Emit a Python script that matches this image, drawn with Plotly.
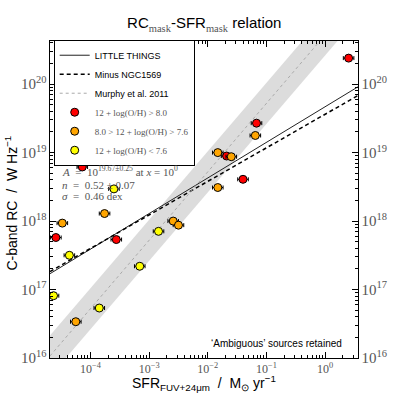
import numpy as np
import plotly.graph_objects as go

# log10 SFR and log10 RC
red_logsfr = [0.40, -1.17, -1.68, -1.40, -4.14, -4.59, -3.56]
red_logrc = [20.38, 19.43, 18.95, 18.61, 18.79, 17.76, 17.73]
orange_logsfr = [-1.19, -1.83, -1.60, -1.83, -3.76, -4.48, -2.59, -2.50, -4.25]
orange_logrc = [19.25, 19.00, 18.94, 18.49, 18.11, 17.97, 18.00, 17.94, 16.53]
yellow_logsfr = [-3.60, -2.84, -4.36, -3.16, -4.63, -3.85]
yellow_logrc = [18.47, 17.85, 17.50, 17.34, 16.91, 16.73]

# fit parameters (log A, slope)
lt_fit = (19.67, 0.52)
minus_fit = (19.56, 0.49)
murphy_fit = (20.72, 1.0)
murphy_scatter = 0.30

xlog_range = [-4.69, 0.56]
ylog_range = [16.0, 20.63]
x_tick_exp = [-4, -3, -2, -1, 0]
x_tick_text = ["10<sup>−4</sup>", "10<sup>−3</sup>", "10<sup>−2</sup>", "10<sup>−1</sup>", "10<sup>0</sup>"]

serif = "Liberation Serif"
sans = "Liberation Sans"
grey_txt = "#555555"

fig = go.Figure()

xl = np.array(xlog_range)
xs = 10 ** xl

# Murphy band
lo = 10 ** (murphy_fit[0] + murphy_fit[1] * xl - murphy_scatter)
hi = 10 ** (murphy_fit[0] + murphy_fit[1] * xl + murphy_scatter)
fig.add_trace(go.Scatter(x=list(xs) + list(xs[::-1]), y=list(lo) + list(hi[::-1]),
                         fill="toself", fillcolor="#dcdcdc", line=dict(width=0),
                         mode="lines", showlegend=False, hoverinfo="skip"))

fig.add_trace(go.Scatter(x=xs, y=10 ** (lt_fit[0] + lt_fit[1] * xl), mode="lines",
                         line=dict(color="#222222", width=1), name="LITTLE THINGS"))
fig.add_trace(go.Scatter(x=xs, y=10 ** (minus_fit[0] + minus_fit[1] * xl), mode="lines",
                         line=dict(color="black", width=1.5, dash="4px,3px"), name="Minus NGC1569"))
fig.add_trace(go.Scatter(x=xs, y=10 ** (murphy_fit[0] + murphy_fit[1] * xl), mode="lines",
                         line=dict(color="#aaaaaa", width=1, dash="dot"), name="Murphy et al. 2011"))


def pts(lx, ly, color, name):
    x = 10 ** np.array(lx)
    y = 10 ** np.array(ly)
    ex = 0.09
    ey = 0.03
    return go.Scatter(
        x=x, y=y, mode="markers", name=name,
        marker=dict(color=color, size=8, line=dict(color="black", width=1)),
        error_x=dict(type="data", symmetric=False, array=x * (10 ** ex - 1),
                     arrayminus=x * (1 - 10 ** -ex), color="black", thickness=1, width=2),
        error_y=dict(type="data", symmetric=False, array=y * (10 ** ey - 1),
                     arrayminus=y * (1 - 10 ** -ey), color="black", thickness=1, width=2),
    )


lab = "<span style='font-family:%s;color:%s'>%s</span>"
fig.add_trace(pts(red_logsfr, red_logrc, "red", lab % (serif, grey_txt, "12 + log(O/H) > 8.0")))
fig.add_trace(pts(orange_logsfr, orange_logrc, "orange", lab % (serif, grey_txt, "8.0 > 12 + log(O/H) > 7.6")))
fig.add_trace(pts(yellow_logsfr, yellow_logrc, "yellow", lab % (serif, grey_txt, "12 + log(O/H) < 7.6")))

# invisible trace so the right-hand axis is drawn
fig.add_trace(go.Scatter(x=[xs[0]], y=[10 ** ylog_range[0]], yaxis="y2", mode="markers",
                         marker=dict(opacity=0), showlegend=False, hoverinfo="skip"))

ax_common = dict(type="log", showgrid=False, zeroline=False, showline=True, linecolor="black",
                 linewidth=1, ticks="inside", ticklen=6, tickcolor="black", dtick=1,
                 exponentformat="power", automargin=False,
                 tickfont=dict(family=serif, size=12, color=grey_txt),
                 minor=dict(ticks="inside", ticklen=3, tickcolor="black", dtick="D1"))

fig.update_layout(
    width=399, height=399,
    margin=dict(l=50, r=41, t=41, b=41),
    paper_bgcolor="white", plot_bgcolor="white",
    title=dict(text="RC<sub><span style='font-family:%s;color:%s'>mask</span></sub>-SFR<sub><span style='font-family:%s;color:%s'>mask</span></sub> relation" % (serif, grey_txt, serif, grey_txt),
               x=0.512, xanchor="center", y=0.955, yanchor="top",
               font=dict(family=sans, size=15, color="black")),
    xaxis=dict(ax_common, range=xlog_range, mirror="ticks",
               tickmode="array", tickvals=[10.0 ** e for e in x_tick_exp], ticktext=x_tick_text),
    yaxis=dict(ax_common, range=ylog_range, mirror="ticks"),
    yaxis2=dict(ax_common, range=ylog_range, overlaying="y", side="right", anchor="x"),
    legend=dict(x=0.012, y=1.004, xanchor="left", yanchor="top", bgcolor="white",
                bordercolor="black", borderwidth=1, font=dict(family=sans, size=9, color="black"),
                tracegroupgap=0, itemwidth=30),
    showlegend=True,
)

fig.add_annotation(xref="paper", yref="paper", x=0.5, y=-0.079,
                   text="SFR<sub>FUV+24μm</sub>  /  M<sub>⊙</sub> yr<sup>−1</sup>",
                   showarrow=False, xanchor="center", yanchor="middle",
                   font=dict(family=sans, size=14, color="black"))
fig.add_annotation(xref="paper", yref="paper", x=-0.127, y=0.49,
                   text="C-band RC  /  W Hz<sup>−1</sup>", textangle=-90,
                   showarrow=False, xanchor="center", yanchor="middle",
                   font=dict(family=sans, size=14, color="black"))

notes = ["<i>A</i>  =  10<sup>19.67±0.25</sup> at <i>x</i> = 10<sup>0</sup>",
         "<i>n</i>  =  0.52 ± 0.07",
         "<i>σ</i>  =  0.46 dex"]
note_y = [0.590, 0.545, 0.510]
for t, yy in zip(notes, note_y):
    fig.add_annotation(xref="paper", yref="paper", x=0.032, y=yy, text=t,
                       showarrow=False, xanchor="left", yanchor="middle",
                       font=dict(family=serif, size=11, color=grey_txt))

fig.add_annotation(xref="paper", yref="paper", x=0.737, y=0.047, text="‘Ambiguous’ sources retained",
                   showarrow=False, xanchor="center", yanchor="middle",
                   font=dict(family=sans, size=10, color="black"))

fig.write_html("out.html", config={"displayModeBar": False},
               post_script="document.body.style.margin='0';")
